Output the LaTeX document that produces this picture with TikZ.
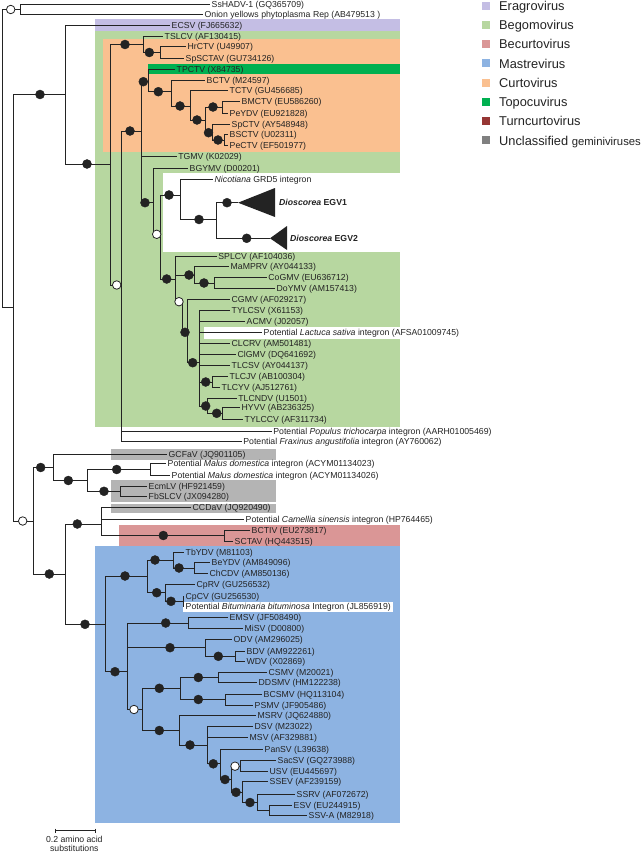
\documentclass[tikz,border=0pt]{standalone}
\usepackage{fontspec}
\setmainfont{Liberation Sans}
\definecolor{erag}{RGB}{196,190,228}
\definecolor{bego}{RGB}{183,215,160}
\definecolor{becu}{RGB}{218,150,150}
\definecolor{mast}{RGB}{141,179,226}
\definecolor{curt}{RGB}{250,192,144}
\definecolor{topo}{RGB}{0,176,80}
\definecolor{turn}{RGB}{150,54,52}
\definecolor{uncl}{RGB}{180,180,180}
\definecolor{uncll}{RGB}{128,128,128}
\definecolor{ink}{RGB}{35,35,35}
\newcounter{cc}
\newcommand\cfill[2]{\stepcounter{cc}\node[bsf] (c\arabic{cc}) at (#1,#2) {};}
\newcommand\copen[2]{\stepcounter{cc}\node[bso] (c\arabic{cc}) at (#1,#2) {};}
\newcommand\leafl[5]{\node[lf] (#1) at (#3,#4) {#5}; \draw[br] (#2) |- (#1.west);}
\newcommand\ibr[2]{\draw[br] (#1) |- (#2);}
\begin{document}
\begin{tikzpicture}[x=1pt,y=-1pt,
  br/.style={draw=ink,line width=0.8pt},
  lf/.style={anchor=west,inner xsep=1.5pt,inner ysep=0pt,text height=6.3pt,text depth=0pt,font=\fontsize{8.7}{10}\selectfont,text=ink},
  bsf/.style={circle,fill=ink,draw=ink,minimum size=9pt,inner sep=0pt},
  bso/.style={circle,fill=white,draw=ink,line width=0.8pt,minimum size=8.5pt,inner sep=0pt},
  sq/.style={minimum size=8pt,inner sep=0pt},
  lgt/.style={anchor=west,inner sep=0pt,text height=9.2pt,text depth=0pt,font=\fontsize{12.8}{14}\selectfont,text=ink}]
\useasboundingbox (0,0) rectangle (643,853);
% clade boxes
\fill[erag] (95,19) rectangle (400,30.7);
\fill[bego] (95,30.7) rectangle (400,426.7);
\fill[white] (163,172.7) rectangle (400,251.7);
\fill[curt] (103.3,39.3) rectangle (400,151.7);
\fill[topo] (148,64) rectangle (400,74.3);
\fill[turn] (210,84.7) rectangle (400,96.3);
\fill[white] (204,327) rectangle (400,338.7);
\fill[uncl] (111,448.5) rectangle (276,459.5);
\fill[uncl] (111,480) rectangle (276,501.5);
\fill[uncl] (111,503.5) rectangle (276,513);
\fill[becu] (119,525) rectangle (400,546);
\fill[mast] (95,546) rectangle (400,823.3);
\fill[white] (183,601.7) rectangle (393,611.7);
% internal nodes
\coordinate (R) at (2,158);
\coordinate (A) at (20.7,9.5);
\coordinate (B) at (13,307.5);
\coordinate (C) at (65,94.5);
\coordinate (D) at (110,164);
\coordinate (E) at (143,44.5);
\coordinate (E2) at (160,52.5);
\coordinate (F) at (121.7,285);
\coordinate (G) at (141.7,131);
\coordinate (K) at (148,81.7);
\coordinate (K2) at (171,91.7);
\coordinate (K3) at (190,106);
\coordinate (K4) at (205,120);
\coordinate (K5) at (222,107);
\coordinate (K6) at (212.7,132.7);
\coordinate (K7) at (224,140);
\coordinate (H) at (153.3,202.7);
\coordinate (I) at (160,234.3);
\coordinate (J) at (180,195);
\coordinate (J2) at (216.7,219.5);
\coordinate (T1) at (238,202.7);
\coordinate (T2) at (270,238.3);
\coordinate (N1) at (175,279);
\coordinate (M) at (194,275);
\coordinate (M2) at (214,283);
\coordinate (N2) at (182.7,301.7);
\coordinate (N3) at (187,332.3);
\coordinate (P) at (199,362.7);
\coordinate (Q1) at (212,382);
\coordinate (Q2) at (207,406);
\coordinate (Q3) at (222,413.3);
\coordinate (L) at (33,521);
\coordinate (L1) at (53,467.5);
\coordinate (L3) at (87,480.5);
\coordinate (L4) at (150,469.5);
\coordinate (L5) at (120,491.3);
\coordinate (L2) at (65,574);
\coordinate (L6) at (101,524);
\coordinate (L8) at (224,535.5);
\coordinate (L7) at (105,624.3);
\coordinate (L9) at (147,576);
\coordinate (L11) at (173,560);
\coordinate (L13) at (194,568);
\coordinate (L12) at (165,592.7);
\coordinate (L14) at (183,601.3);
\coordinate (L10) at (127,671.7);
\coordinate (L15) at (188,623);
\coordinate (L16) at (205,647.7);
\coordinate (L18) at (235,656.3);
\coordinate (L17) at (142,709.5);
\coordinate (L19) at (180,688.3);
\coordinate (L21) at (218,677.5);
\coordinate (L22) at (225,699.5);
\coordinate (L20) at (179,730.5);
\coordinate (L23) at (207,745);
\coordinate (L24) at (220,763.8);
\coordinate (L25) at (231,779.5);
\coordinate (L26) at (240,766.2);
\coordinate (L27) at (242,792.3);
\coordinate (L28) at (257,802.5);
\coordinate (L29) at (269,810);
% upper tree
\ibr{R}{A} \ibr{R}{B}
\leafl{ss}{A}{210}{4}{SsHADV-1 (GQ365709)}
\leafl{on}{A}{203}{14.3}{Onion yellows phytoplasma Rep (AB479513 )}
\ibr{B}{C} \ibr{B}{L}
\leafl{ecsv}{C}{170}{25}{ECSV (FJ665632)}
\ibr{C}{D}
\ibr{D}{E} \ibr{D}{F}
\leafl{tslcv}{E}{163}{36}{TSLCV (AF130415)}
\ibr{E}{E2}
\leafl{hrctv}{E2}{186}{46.7}{HrCTV (U49907)}
\leafl{spsctav}{E2}{184}{58.3}{SpSCTAV (GU734126)}
\ibr{F}{G}
\leafl{pop}{F}{271.7}{431}{Potential \textit{Populus trichocarpa} integron (AARH01005469)}
\leafl{fra}{F}{241.7}{441.7}{Potential \textit{Fraxinus angustifolia} integron (AY760062)}
\ibr{G}{K} \ibr{G}{H}
\leafl{tgmv}{G}{176.7}{156.7}{TGMV (K02029)}
\leafl{tpctv}{K}{175}{69}{TPCTV (X84735)}
\ibr{K}{K2}
\leafl{bctv}{K2}{205}{80}{BCTV (M24597)}
\ibr{K2}{K3}
\leafl{tctv}{K3}{228}{90.7}{TCTV (GU456685)}
\ibr{K3}{K4}
\ibr{K4}{K5} \ibr{K4}{K6}
\leafl{bmctv}{K5}{240}{101}{BMCTV (EU586260)}
\leafl{peydv}{K5}{228}{113.3}{PeYDV (EU921828)}
\leafl{spctv}{K6}{230}{124}{SpCTV (AY548948)}
\ibr{K6}{K7}
\leafl{bsctv}{K7}{228}{134.7}{BSCTV (U02311)}
\leafl{pectv}{K7}{228}{145.7}{PeCTV (EF501977)}
\leafl{bgymv}{H}{188}{168.3}{BGYMV (D00201)}
\ibr{H}{I}
\ibr{I}{J} \ibr{I}{N1}
\leafl{nic}{J}{213}{179.3}{\textit{Nicotiana} GRD5 integron}
\ibr{J}{J2}
\ibr{J2}{T1} \ibr{J2}{T2}
\fill[ink] (T1) -- (275,188) -- (275,217) -- cycle;
\fill[ink] (T2) -- (287,226) -- (287,250) -- cycle;
\node[lf] (egv1) at (277.5,202.7) {\textbf{\textit{Dioscorea} EGV1}};
\node[lf] (egv2) at (288.5,238.3) {\textbf{\textit{Dioscorea} EGV2}};
\leafl{splcv}{N1}{216.7}{256.7}{SPLCV (AF104036)}
\ibr{N1}{M}
\leafl{mamprv}{M}{229}{266}{MaMPRV (AY044133)}
\ibr{M}{M2}
\leafl{cogmv}{M2}{266.7}{277.7}{CoGMV (EU636712)}
\leafl{doymv}{M2}{275}{288.7}{DoYMV (AM157413)}
\ibr{N1}{N2} \ibr{N2}{N3}
\leafl{cgmv}{N3}{230}{299.3}{CGMV (AF029217)}
\ibr{N3}{P}
\leafl{tylcsv}{P}{230}{310}{TYLCSV (X61153)}
\leafl{acmv}{P}{245}{321.7}{ACMV (J02057)}
\leafl{lac}{P}{262}{332.7}{Potential \textit{Lactuca sativa} integron (AFSA01009745)}
\leafl{clcrv}{P}{230}{343.3}{CLCRV (AM501481)}
\leafl{clgmv}{P}{236}{354}{ClGMV (DQ641692)}
\leafl{tlcsv}{P}{230}{365}{TLCSV (AY044137)}
\ibr{P}{Q1} \ibr{P}{Q2}
\leafl{tlcjv}{Q1}{228}{376.7}{TLCJV (AB100304)}
\leafl{tlcyv}{Q1}{220}{387.3}{TLCYV (AJ512761)}
\leafl{tlcndv}{Q2}{236.7}{398.3}{TLCNDV (U1501)}
\ibr{Q2}{Q3}
\leafl{hyvv}{Q3}{240}{407.3}{HYVV (AB236325)}
\leafl{tylccv}{Q3}{243}{419.3}{TYLCCV (AF311734)}
% lower tree
\ibr{L}{L1} \ibr{L}{L2}
\leafl{gcfav}{L1}{167}{454}{GCFaV (JQ901105)}
\ibr{L1}{L3}
\ibr{L3}{L4} \ibr{L3}{L5}
\leafl{mal1}{L4}{166}{463.3}{Potential \textit{Malus domestica} integron (ACYM01134023)}
\leafl{mal2}{L4}{170}{475.7}{Potential \textit{Malus domestica} integron (ACYM01134026)}
\leafl{ecmlv}{L5}{147}{486}{EcmLV (HF921459)}
\leafl{fbslcv}{L5}{147}{496.7}{FbSLCV (JX094280)}
\ibr{L2}{L6} \ibr{L2}{L7}
\leafl{ccdav}{L6}{191}{507.7}{CCDaV (JQ920490)}
\leafl{cam}{L6}{244}{519}{Potential \textit{Camellia sinensis} integron (HP764465)}
\ibr{L6}{L8}
\leafl{bctiv}{L8}{250}{530}{BCTIV (EU273817)}
\leafl{sctav}{L8}{233}{541}{SCTAV (HQ443515)}
\ibr{L7}{L9} \ibr{L7}{L10}
\ibr{L9}{L11} \ibr{L9}{L12}
\leafl{tbydv}{L11}{184}{552.3}{TbYDV (M81103)}
\ibr{L11}{L13}
\leafl{beydv}{L13}{210}{562.7}{BeYDV (AM849096)}
\leafl{chcdv}{L13}{208}{573.3}{ChCDV (AM850136)}
\leafl{cprv}{L12}{195}{584.3}{CpRV (GU256532)}
\ibr{L12}{L14}
\leafl{cpcv}{L14}{184}{596}{CpCV (GU256530)}
\leafl{bit}{L14}{184}{606.7}{Potential \textit{Bituminaria bituminosa} Integron (JL856919)}
\ibr{L10}{L15} \ibr{L10}{L16} \ibr{L10}{L17}
\leafl{emsv}{L15}{228}{617.3}{EMSV (JF508490)}
\leafl{misv}{L15}{243}{628.3}{MiSV (D00800)}
\leafl{odv}{L16}{232}{639.3}{ODV (AM296025)}
\ibr{L16}{L18}
\leafl{bdv}{L18}{245}{651}{BDV (AM922261)}
\leafl{wdv}{L18}{245}{661.7}{WDV (X02869)}
\ibr{L17}{L19} \ibr{L17}{L20}
\ibr{L19}{L21} \ibr{L19}{L22}
\leafl{csmv}{L21}{267}{672.3}{CSMV (M20021)}
\leafl{ddsmv}{L21}{257}{682.7}{DDSMV (HM122238)}
\leafl{bcsmv}{L22}{262}{694.3}{BCSMV (HQ113104)}
\leafl{psmv}{L22}{253}{705}{PSMV (JF905486)}
\leafl{msrv}{L20}{256}{715.7}{MSRV (JQ624880)}
\ibr{L20}{L23}
\leafl{dsv}{L23}{253}{726.7}{DSV (M23022)}
\leafl{msv}{L23}{248}{737.7}{MSV (AF329881)}
\ibr{L23}{L24}
\leafl{pansv}{L24}{263}{749.3}{PanSV (L39638)}
\ibr{L24}{L25}
\ibr{L25}{L26} \ibr{L25}{L27}
\leafl{sacsv}{L26}{276}{760.7}{SacSV (GQ273988)}
\leafl{usv}{L26}{268}{771.7}{USV (EU445697)}
\leafl{ssev}{L27}{268}{781.7}{SSEV (AF239159)}
\ibr{L27}{L28}
\leafl{ssrv}{L28}{295}{794.3}{SSRV (AF072672)}
\ibr{L28}{L29}
\leafl{esv}{L29}{292}{805}{ESV (EU244915)}
\leafl{ssva}{L29}{307}{815}{SSV-A (M82918)}
% support circles
\copen{10.7}{9.5}
\cfill{40}{94.5} \cfill{125}{44.5} \cfill{149.3}{52.5} \cfill{143.3}{81.7}
\cfill{158.3}{91.7} \cfill{180}{106} \cfill{197}{120} \cfill{213}{107}
\cfill{208.5}{132.7} \cfill{218}{140} \cfill{130}{131} \cfill{87}{164}
\cfill{169}{195} \cfill{145}{202.7} \cfill{227}{202.7} \cfill{199}{219.5}
\copen{156.7}{234.3} \cfill{246.7}{238.3} \copen{116.7}{285}
\cfill{166.7}{279} \cfill{189}{275} \cfill{204}{283} \copen{179}{301.7}
\cfill{185}{332.3} \cfill{192.7}{362.7} \cfill{205.7}{382} \cfill{205.7}{406}
\cfill{216.7}{413.3}
\copen{22.7}{521} \cfill{40.7}{467.5} \cfill{68.3}{480.5} \cfill{116.7}{469.5}
\cfill{104}{491.3} \cfill{49.3}{574} \cfill{77.3}{524} \cfill{163.3}{535.5}
\cfill{85}{624.3} \cfill{125}{576} \cfill{115}{671.7} \cfill{155}{560}
\cfill{179}{568} \cfill{156.7}{592.7} \cfill{171}{601.3} \cfill{165.7}{623}
\cfill{170}{647.7} \cfill{218.3}{656.3} \copen{134}{709.5} \cfill{159.3}{688.3}
\cfill{198.3}{677.5} \cfill{198.3}{699.5} \cfill{159.3}{730.5} \cfill{190}{745}
\cfill{213.3}{763.8} \cfill{225}{779.5} \copen{235}{766.2} \cfill{236}{792.3}
\cfill{250}{802.5}
% scale bar
\coordinate (s1) at (55,830.7);
\coordinate (s2) at (95,830.7);
\draw[br] (s1) -- (s2);
\draw[br] ([yshift=2pt]s1) -- ([yshift=-2pt]s1);
\draw[br] ([yshift=2pt]s2) -- ([yshift=-2pt]s2);
\node[lf,anchor=center] (sc1) at (74.3,839.3) {0.2 amino acid};
\node[lf,anchor=center] (sc2) at (74.3,848.8) {substitutions};
% legend
\node[sq,fill=erag] (g1) at (486,5.7) {};
\node[sq,fill=bego] (g2) at (486,25) {};
\node[sq,fill=becu] (g3) at (486,44.3) {};
\node[sq,fill=mast] (g4) at (486,63.5) {};
\node[sq,fill=curt] (g5) at (486,82.7) {};
\node[sq,fill=topo] (g6) at (486,101.9) {};
\node[sq,fill=turn] (g7) at (486,121.2) {};
\node[sq,fill=uncll] (g8) at (486,140.5) {};
\node[lgt] (t1) at (499,5.7) {Eragrovirus};
\node[lgt] (t2) at (499,25) {Begomovirus};
\node[lgt] (t3) at (499,44.3) {Becurtovirus};
\node[lgt] (t4) at (499,63.5) {Mastrevirus};
\node[lgt] (t5) at (499,82.7) {Curtovirus};
\node[lgt] (t6) at (499,101.9) {Topocuvirus};
\node[lgt] (t7) at (499,121.2) {Turncurtovirus};
\node[lgt] (t8) at (499,140.5) {Unclassified {\fontsize{11.3}{13}\selectfont geminiviruses}};
\end{tikzpicture}
\end{document}
